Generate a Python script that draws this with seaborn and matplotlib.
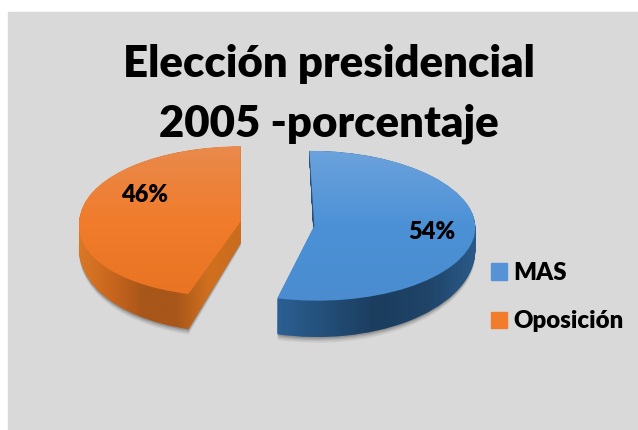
import matplotlib.pyplot as plt
import numpy as np
import seaborn as sns
from matplotlib.colors import LinearSegmentedColormap
from matplotlib.patches import PathPatch, Rectangle
from matplotlib.path import Path

# Data
categories = ['MAS', 'Oposición']
values = [54, 46]
title = 'Elección presidencial\n2005 -porcentaje'

sns.set_theme(style='white')
plt.rcParams['font.family'] = ['Lato', 'DejaVu Sans']
palette = sns.color_palette(['#5592D6', '#F07C2C'])

W, H = 638, 430
cx, cy = 277.5, 223.5  # pie centre in pixels
rx, ry = 161, 75  # pixels per data unit
explode = [0.23, 0.23]

top_colors = [['#6BA2DC', '#4C91D6', '#4A8CCF'], ['#E98A4C', '#F07C2C', '#E97523']]
side_colors = [['#2C6093', '#234E78', '#1B3D5E', '#1F4468', '#2A5A88'],
               ['#DB7826', '#C8661E', '#A8561A', '#A8561A', '#D0701F', '#C96C1E']]

fig = plt.figure(figsize=(W / 100, H / 100), dpi=100, facecolor='white')
ax = fig.add_axes([0, 0, 1, 1])
ax.add_patch(Rectangle((8 / W, 0), 1, 1 - 12 / H, transform=fig.transFigure, color='#D9D9D9', zorder=0))


def wedge_paths(t=0):
    # t is how far down the side of the pie, 0 top face, 1 bottom edge
    wedges = ax.pie(values, explode=explode, startangle=90, counterclock=False)[0]
    paths = []
    for i, w in enumerate(wedges):
        v = w.get_path().transformed(w.get_patch_transform()).vertices.copy()
        codes = w.get_path().codes
        # the picture has some perspective, so lean the slices a bit
        if i == 0:
            v[:, 0] -= np.where(v[:, 1] > 0, 5 / rx * v[:, 1], 0)
            v[:, 0] -= np.where(v[:, 1] < 0, 3 / rx * v[:, 1], 0)
        else:
            v[:, 0] += np.where(v[:, 1] < 0, 13 / rx * v[:, 1], 0)
        # front of the side is deeper than the middle
        v[:, 1] = v[:, 1] * (1 + t * 14 / ry) - t * 22 / ry
        paths.append(Path(v, codes))
        w.remove()
    return paths


def gradient(colors, horizontal, clip, zorder):
    b = clip.get_extents()
    cmap = LinearSegmentedColormap.from_list('g', colors)
    g = np.linspace(0, 1, 256)
    g = g[None, :] if horizontal else g[:, None]
    im = ax.imshow(g, cmap=cmap, extent=(b.x0, b.x1, b.y0, b.y1), origin='upper', aspect='auto', zorder=zorder)
    im.set_clip_path(clip, ax.transData)


# soft shadow under the sides
for t, a in zip([1.16, 1.12, 1.08, 1.04], [0.05, 0.07, 0.10, 0.14]):
    for p in wedge_paths(t):
        ax.add_patch(PathPatch(p, color='black', alpha=a, linewidth=0, zorder=1))

# sides: pie stacked downwards, merged to one clip outline per slice
layers = [wedge_paths(t) for t in np.linspace(0.03, 1, 36)]
for i in range(2):
    gradient(side_colors[i], True, Path.make_compound_path(*[layer[i] for layer in layers]), 2)

# top faces
tops = wedge_paths()
for i in range(2):
    gradient(top_colors[i], False, tops[i], 3)

# percent labels
label_px = [(432, 232), (145, 195)]
for v, (px, py) in zip(values, label_px):
    ax.text((px - cx) / rx, (cy - py) / ry, f'{v}%', ha='center', va='center',
            fontsize=17, fontweight='heavy', color='black', zorder=5)

ax.set_aspect('auto')
ax.set_xlim(-cx / rx, (W - cx) / rx)
ax.set_ylim((cy - H) / ry, cy / ry)
ax.set_axis_off()

# legend
handles = [Rectangle((0, 0), 1, 1, color=c) for c in palette]
ax.legend(handles, categories, loc='upper left', bbox_to_anchor=(491 / W, 1 - 262 / H),
          frameon=False, borderpad=0, borderaxespad=0, handlelength=0.66, handleheight=0.66,
          handletextpad=0.26, labelspacing=1.1, labelcolor='black',
          prop={'weight': 'heavy', 'size': 17.3})

fig.text(329 / W, 1 - 94 / H, title, ha='center', va='center', fontsize=31.5,
         fontweight='heavy', color='black', linespacing=1.6)

fig.savefig('out.png', dpi=100)
